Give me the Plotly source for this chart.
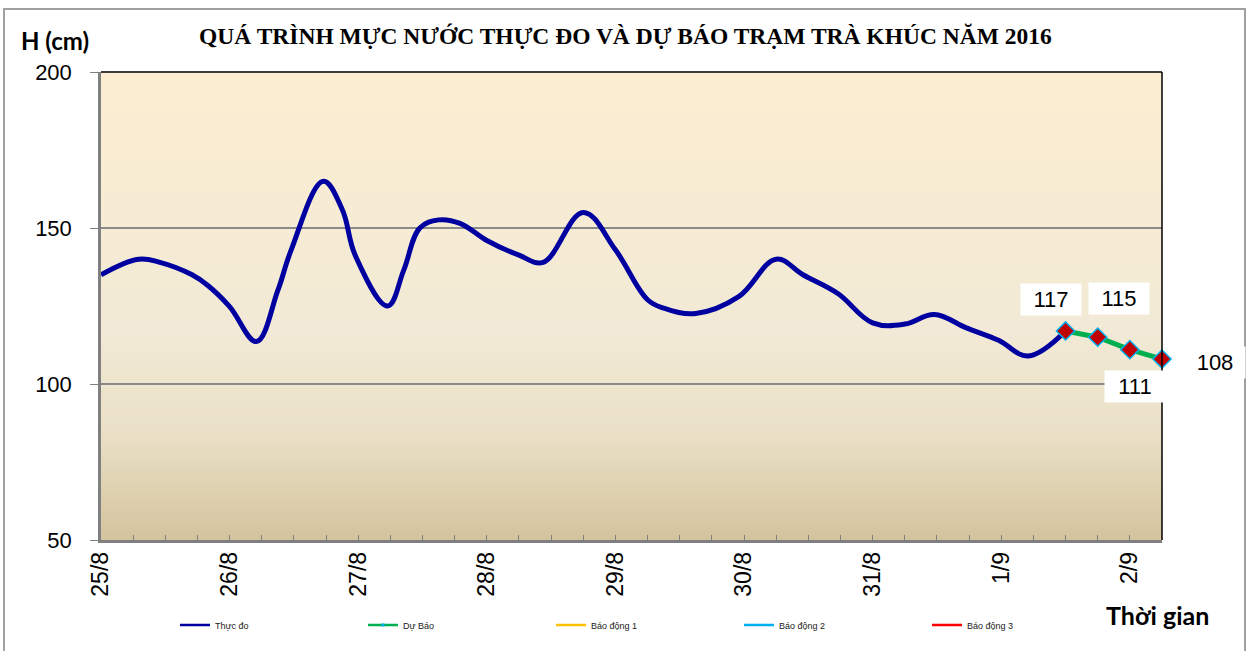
import pandas as pd
import plotly.graph_objects as go

# ---------------- data ----------------
start = pd.Timestamp("2016-08-25 00:00")
obs_hours = [0, 7, 11, 17, 20, 24, 29, 33, 35.5, 41.5, 45, 47.5, 53.5, 56.5, 59.5, 63, 67, 72,
             78, 82.5, 90, 96, 102, 105, 111, 119, 126, 131, 137.5, 144, 150, 155.5, 161.5,
             167.5, 173, 180]
obs_vals = [135, 140, 139, 135, 131.5, 124.8, 113.6, 130, 143, 165, 156, 141, 125, 136.5, 150,
            152.6, 151.5, 146, 141.3, 139, 155, 143, 127, 124.3, 122.6, 128, 140, 135, 129,
            119.6, 119.2, 122.3, 118, 114, 109, 117]
fc_hours = [180, 186, 192, 198]
fc_vals = [117, 115, 111, 108]
day_labels = ["25/8", "26/8", "27/8", "28/8", "29/8", "30/8", "31/8", "1/9", "2/9"]
alarm_names = ["Báo động 1", "Báo động 2", "Báo động 3"]
alarm_colors = ["#FFC000", "#00B0F0", "#FF0000"]

obs_x = [start + pd.Timedelta(hours=h) for h in obs_hours]
fc_x = [start + pd.Timedelta(hours=h) for h in fc_hours]
day_x = [start + pd.Timedelta(days=i) for i in range(len(day_labels))]
x_end = start + pd.Timedelta(hours=fc_hours[-1])

fig = go.Figure()

fig.add_trace(go.Scatter(x=obs_x, y=obs_vals, mode="lines", name="Thực đo", showlegend=False,
                         line=dict(color="#0000A0", width=5, shape="spline", smoothing=1.1)))
fig.add_trace(go.Scatter(x=fc_x, y=fc_vals, mode="lines+markers", name="Dự Báo",
                         showlegend=False, cliponaxis=False,
                         line=dict(color="#00B050", width=5),
                         marker=dict(symbol="diamond", size=14, color="#C00000",
                                     line=dict(color="#00B0F0", width=1.5))))
# legend entries (thin lines, as in the reference legend)
fig.add_trace(go.Scatter(x=[None], y=[None], mode="lines", name="Thực đo",
                         line=dict(color="#0000A0", width=2.5)))
fig.add_trace(go.Scatter(x=[None], y=[None], mode="lines+markers", name="Dự Báo",
                         line=dict(color="#00B050", width=2.5),
                         marker=dict(symbol="square", size=3, color="#00B0F0")))
for nm, col in zip(alarm_names, alarm_colors):
    fig.add_trace(go.Scatter(x=[None], y=[None], mode="lines", name=nm,
                             line=dict(color=col, width=2.5)))

# data labels for forecast
label_shifts = [(-15, 31), (21, 39), (5, -37), (53, -3)]
for xv, yv, (dx, dy) in zip(fc_x, fc_vals, label_shifts):
    fig.add_annotation(x=xv, y=yv, xref="x", yref="y", text=str(yv), showarrow=False,
                       xshift=dx, yshift=dy, bgcolor="white", borderpad=3,
                       width=54, height=25, align="center",
                       font=dict(family="Liberation Sans, Arial", size=22, color="black"))

# gradient background of the plot area
stops = [(0.0, (252, 237, 209)), (0.55, (242, 234, 214)), (0.78, (233, 224, 198)),
         (1.0, (212, 196, 158))]


def col_at(t):
    for (t0, c0), (t1, c1) in zip(stops[:-1], stops[1:]):
        if t0 <= t <= t1:
            f = (t - t0) / (t1 - t0)
            return "rgb(%d,%d,%d)" % tuple(round(a + (b - a) * f) for a, b in zip(c0, c1))
    return "rgb(%d,%d,%d)" % stops[-1][1]


n_bands = 80
for i in range(n_bands):
    t = (i + 0.5) / n_bands
    fig.add_shape(type="rect", xref="x domain", yref="y domain", x0=0, x1=1,
                  y0=1 - (i + 1) / n_bands, y1=1 - i / n_bands + 0.002,
                  fillcolor=col_at(t), line=dict(width=0), layer="below")

# top & right border of plot area
fig.add_shape(type="line", xref="x domain", yref="y domain", x0=0, x1=1, y0=1, y1=1,
              line=dict(color="black", width=1.5))
fig.add_shape(type="line", xref="x domain", yref="y domain", x0=1, x1=1, y0=0, y1=1,
              line=dict(color="black", width=1.5))
# outer chart border
W, H = 1251, 651
L, R, T, B = 101, 89, 72, 111
pw, ph = W - L - R, H - T - B


def px_x(p):
    return (p - L) / pw


def px_y(p):
    return (H - B - p) / ph


fig.add_shape(type="rect", xref="paper", yref="paper", x0=px_x(4), x1=px_x(1245),
              y0=px_y(652), y1=px_y(9), line=dict(color="#A0A0A0", width=2))

fig.add_annotation(text="QUÁ TRÌNH MỰC NƯỚC THỰC ĐO VÀ DỰ BÁO TRẠM TRÀ KHÚC NĂM 2016",
                   xref="paper", yref="paper", x=px_x(625), y=px_y(36), showarrow=False,
                   xanchor="center", yanchor="middle",
                   font=dict(family="Liberation Serif, Times New Roman", size=23.5,
                             color="black", weight="bold"))
fig.add_annotation(text="<b>H (cm)</b>", xref="paper", yref="paper", x=px_x(55), y=px_y(40),
                   showarrow=False, xanchor="center", yanchor="middle",
                   font=dict(family="Lato, Open Sans", size=24, color="black"))
fig.add_annotation(text="<b>Thời gian</b>", xref="paper", yref="paper", x=px_x(1157),
                   y=px_y(615), showarrow=False, xanchor="center", yanchor="middle",
                   font=dict(family="Lato, Open Sans", size=25, color="black"))

fig.update_layout(
    width=W, height=H,
    margin=dict(l=L, r=R, t=T, b=B),
    paper_bgcolor="white", plot_bgcolor="rgba(0,0,0,0)",
    showlegend=True,
    legend=dict(orientation="h", xref="container", yref="container", x=175 / W,
                y=1 - 625 / H, xanchor="left", yanchor="middle", entrywidth=143,
                font=dict(family="Liberation Sans, Arial", size=9, color="#222222"),
                bgcolor="rgba(0,0,0,0)", itemwidth=30),
)
fig.update_xaxes(type="date", range=[start, x_end], tickvals=day_x, ticktext=day_labels,
                 tickangle=-90, ticks="inside", ticklen=5, tickcolor="#808080",
                 tickfont=dict(family="Liberation Sans, Arial", size=23, color="black"),
                 showline=True, linecolor="#808080", linewidth=2.5, showgrid=False,
                 zeroline=False,
                 minor=dict(dtick=6 * 3600 * 1000, ticks="inside", ticklen=5,
                            tickcolor="#808080", showgrid=False))
fig.update_yaxes(range=[50, 200], dtick=50, ticks="outside", ticklen=8, tickcolor="#808080",
                 tickfont=dict(family="Liberation Sans, Arial", size=22, color="black"),
                 ticklabelstandoff=14,
                 showline=True, linecolor="#808080", linewidth=2.5, showgrid=True,
                 gridcolor="#8A8A8A", gridwidth=1.5, zeroline=False)

fig.write_html("out.html", config={"displayModeBar": False},
               post_script="document.body.style.margin='0';")
